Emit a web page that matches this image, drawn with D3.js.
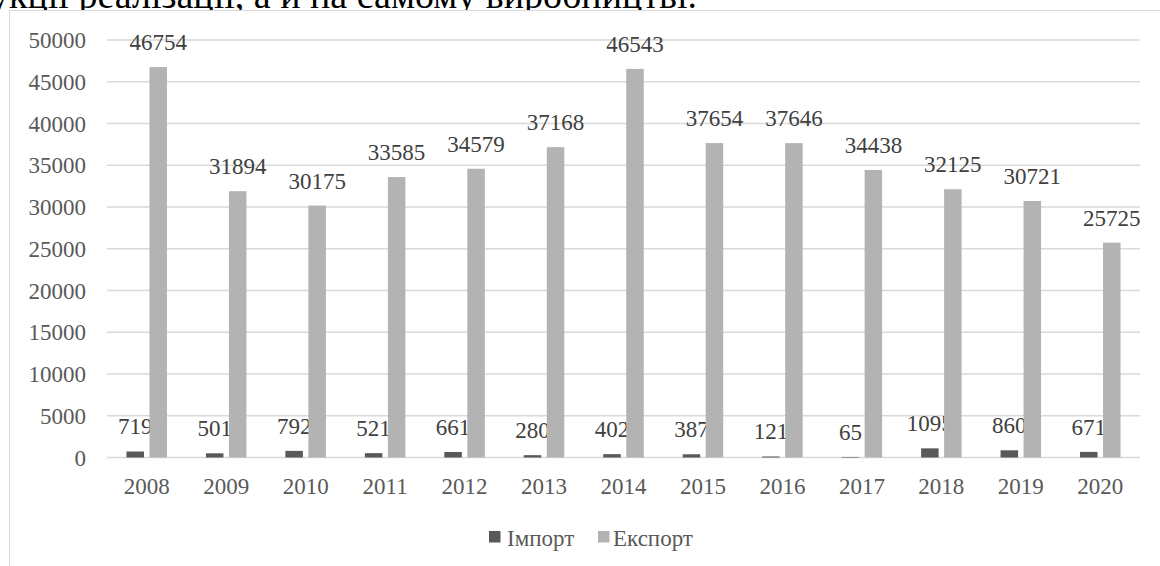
<!DOCTYPE html>
<html>
<head>
<meta charset="utf-8">
<script src="https://cdn.jsdelivr.net/npm/d3@7"></script>
<style>
  body { margin: 0; background: #fff; }
  svg { display: block; }
  svg text { font-family: "Liberation Serif", "Times New Roman", "DejaVu Serif", serif; }
</style>
</head>
<body>
<script>
var years = ['2008','2009','2010','2011','2012','2013','2014','2015','2016','2017','2018','2019','2020']
var importVals = [719, 501, 792, 521, 661, 280, 402, 387, 121, 65, 1095, 860, 671]
var exportVals = [46754, 31894, 30175, 33585, 34579, 37168, 46543, 37654, 37646, 34438, 32125, 30721, 25725]
var seriesNames = ['Імпорт', 'Експорт']
var seriesColors = ['#595959', '#b3b3b3']
var yTicks = [0, 5000, 10000, 15000, 20000, 25000, 30000, 35000, 40000, 45000, 50000]

var width = 1160, height = 566
var plot = { left: 107, right: 1140, top: 40, bottom: 457.5 }

var svg = d3.select('body').append('svg')
  .attr('width', width)
  .attr('height', height)

// tail of the page text above the chart (cut by the crop)
svg.append('text')
  .attr('x', 697)
  .attr('y', 8)
  .attr('text-anchor', 'end')
  .style('font-size', '38px')
  .style('fill', '#000')
  .text('продукції реалізації, а й на самому виробництві.')

// chart frame
svg.append('rect')
  .attr('x', 9.5)
  .attr('y', 10.5)
  .attr('width', 1170)
  .attr('height', 600)
  .style('fill', '#fff')
  .style('stroke', '#d9d9d9')
  .style('stroke-width', 1)

var x_scale = d3.scaleBand().domain(years).range([plot.left, plot.right])
var y_scale = d3.scaleLinear().domain([0, 50000]).range([plot.bottom, plot.top])
var barW = 17.5, offset = 11.5

// gridlines
svg.selectAll('line.grid')
  .data(yTicks)
  .enter().append('line')
  .attr('class', 'grid')
  .attr('x1', plot.left)
  .attr('x2', plot.right)
  .attr('y1', function(d) { return y_scale(d) })
  .attr('y2', function(d) { return y_scale(d) })
  .style('stroke', '#d9d9d9')
  .style('stroke-width', 1.3)

// y tick labels
svg.selectAll('text.ytick')
  .data(yTicks)
  .enter().append('text')
  .attr('class', 'ytick')
  .attr('x', 86)
  .attr('y', function(d) { return y_scale(d) + 8 })
  .attr('text-anchor', 'end')
  .style('font-size', '23px')
  .style('fill', '#595959')
  .text(function(d) { return d })

// x labels
svg.selectAll('text.xtick')
  .data(years)
  .enter().append('text')
  .attr('class', 'xtick')
  .attr('x', function(d) { return x_scale(d) + x_scale.bandwidth() / 2 })
  .attr('y', 494)
  .attr('text-anchor', 'middle')
  .style('font-size', '23px')
  .style('fill', '#595959')
  .text(function(d) { return d })

var series = [importVals, exportVals]
series.forEach(function(vals, s) {
  var dx = s === 0 ? -offset : offset
  var cx = function(d, i) { return x_scale(years[i]) + x_scale.bandwidth() / 2 + dx }

  svg.selectAll('rect.bar' + s)
    .data(vals)
    .enter().append('rect')
    .attr('class', 'bar' + s)
    .attr('x', function(d, i) { return cx(d, i) - barW / 2 })
    .attr('y', function(d) { return y_scale(d) })
    .attr('width', barW)
    .attr('height', function(d) { return plot.bottom - y_scale(d) })
    .style('fill', seriesColors[s])

  svg.selectAll('text.lbl' + s)
    .data(vals)
    .enter().append('text')
    .attr('class', 'lbl' + s)
    .attr('x', cx)
    .attr('y', function(d) { return y_scale(d) - 17 })
    .attr('text-anchor', 'middle')
    .style('font-size', '23px')
    .style('fill', '#404040')
    .text(function(d) { return d })
})

// legend
var legendItems = [
  { name: seriesNames[0], color: seriesColors[0], x: 489 },
  { name: seriesNames[1], color: seriesColors[1], x: 598 }
]
var legend = svg.selectAll('g.legend')
  .data(legendItems)
  .enter().append('g')
  .attr('class', 'legend')
  .attr('transform', function(d) { return 'translate(' + d.x + ',531)' })
legend.append('rect')
  .attr('width', 11.5)
  .attr('height', 11.5)
  .style('fill', function(d) { return d.color })
legend.append('text')
  .attr('x', function(d, i) { return i === 0 ? 18 : 15 })
  .attr('y', 15)
  .style('font-size', '23px')
  .style('fill', '#595959')
  .text(function(d) { return d.name })
</script>
</body>
</html>
